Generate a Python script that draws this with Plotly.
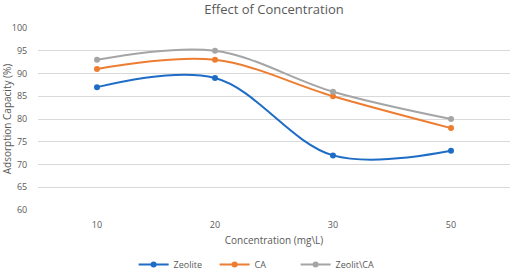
import plotly.graph_objects as go

categories = ["10", "20", "30", "50"]
zeolite = [87, 89, 72, 73]
ca = [91, 93, 85, 78]
zeolit_ca = [93, 95, 86, 80]
y_ticks = [60, 65, 70, 75, 80, 85, 90, 95, 100]

font_family = "Open Sans, Liberation Sans, sans-serif"
text_color = "#595959"

fig = go.Figure()
for name, vals, color in [("Zeolite", zeolite, "#1F6CC6"),
                          ("CA", ca, "#ED7D31"),
                          ("Zeolit\\CA", zeolit_ca, "#A5A5A5")]:
    fig.add_trace(go.Scatter(
        x=categories, y=vals, name=name, mode="lines+markers",
        line=dict(color=color, width=2, shape="spline", smoothing=1.0),
        marker=dict(color=color, size=6),
    ))

fig.update_layout(
    width=512, height=272,
    margin=dict(l=38, r=2, t=28, b=62, autoexpand=False),
    paper_bgcolor="white", plot_bgcolor="white",
    font=dict(family=font_family, color=text_color, size=10),
    title=dict(text="Effect of Concentration", x=0.5, xanchor="center",
               xref="paper", yref="container", y=0.965, yanchor="middle",
               font=dict(size=13, color=text_color, family=font_family)),
    showlegend=True,
    legend=dict(orientation="h", x=0.46, xanchor="center", y=-0.30, yanchor="middle",
                font=dict(size=9, color=text_color), itemwidth=30,
                entrywidth=36, entrywidthmode="pixels"),
    xaxis=dict(type="category", range=[-0.5, 3.5], showgrid=False, zeroline=False,
               showline=False,
               ticks="outside", ticklen=6, tickcolor="rgba(0,0,0,0)",
               tickfont=dict(size=9, color=text_color),
               title=dict(text="Concentration (mg\\L)", standoff=7,
                          font=dict(size=10, color=text_color))),
    yaxis=dict(range=[60, 100], tickvals=y_ticks, showgrid=True, gridcolor="#D9D9D9",
               gridwidth=1, zeroline=False, showline=False,
               ticks="outside", ticklen=8, tickcolor="rgba(0,0,0,0)",
               tickfont=dict(size=9, color=text_color),
               title=dict(text="Adsorption Capacity (%)", standoff=4,
                          font=dict(size=10, color=text_color))),
)

fig.write_html("out.html", config={"displayModeBar": False},
               post_script="document.body.style.margin='0';document.body.style.overflow='hidden';")
